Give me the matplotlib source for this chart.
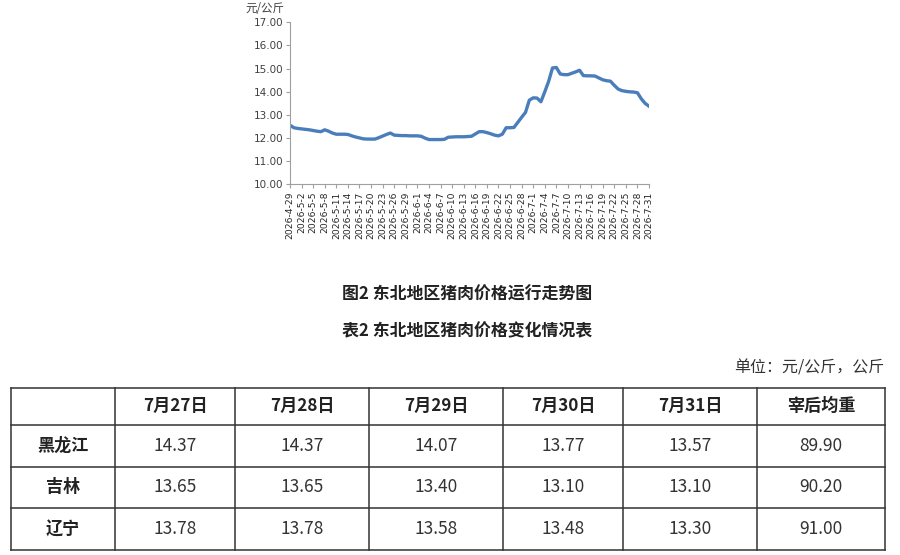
import matplotlib.pyplot as plt
import numpy as np
import datetime as dt

plt.rcParams['font.family'] = ['Noto Sans CJK SC', 'DejaVu Sans']

# 东北地区猪肉价格 (元/公斤), 2026-4-29 ~ 2026-7-31, daily
prices = [12.56, 12.45, 12.42, 12.40, 12.38, 12.36, 12.33, 12.30, 12.28, 12.36,
          12.30, 12.22, 12.17, 12.17, 12.17, 12.16, 12.10, 12.05, 12.01, 11.97,
          11.96, 11.96, 11.96, 12.02, 12.09, 12.16, 12.22, 12.13, 12.12, 12.11,
          12.11, 12.10, 12.10, 12.10, 12.08, 12.00, 11.94, 11.94, 11.94, 11.94,
          11.95, 12.04, 12.05, 12.06, 12.06, 12.06, 12.07, 12.08, 12.18, 12.28,
          12.28, 12.24, 12.19, 12.13, 12.10, 12.17, 12.45, 12.45, 12.46, 12.68,
          12.90, 13.11, 13.64, 13.74, 13.73, 13.57, 14.00, 14.45, 15.03, 15.05,
          14.77, 14.74, 14.74, 14.80, 14.86, 14.93, 14.70, 14.69, 14.69, 14.68,
          14.60, 14.52, 14.48, 14.46, 14.28, 14.12, 14.05, 14.02, 14.00, 13.99,
          13.96, 13.70, 13.50, 13.38]
start = dt.date(2026, 4, 29)
dates = [start + dt.timedelta(days=i) for i in range(len(prices))]
date_labels = [f"{d.year}-{d.month}-{d.day}" for d in dates]

# 表2 数据
col_heads = ['', '7月27日', '7月28日', '7月29日', '7月30日', '7月31日', '宰后均重']
provinces = ['黑龙江', '吉林', '辽宁']
table_vals = [
    ['14.37', '14.37', '14.07', '13.77', '13.57', '89.90'],
    ['13.65', '13.65', '13.40', '13.10', '13.10', '90.20'],
    ['13.78', '13.78', '13.58', '13.48', '13.30', '91.00'],
]

W, H = 900, 555
fig = plt.figure(figsize=(W / 100, H / 100), dpi=100)

# ---- 折线图 ----
ax = fig.add_axes([290 / W, 1 - 184.5 / H, (649 - 290) / W, (184.5 - 22.3) / H])
x = np.arange(len(prices))
ax.plot(x, prices, color='#4a7ebb', lw=2.4, solid_joinstyle='round')
ax.set_xlim(0, len(prices) - 1)
ax.set_ylim(10, 17)
ax.set_yticks(np.arange(10, 17.01, 1))
ax.set_yticklabels([f"{v:.2f}" for v in np.arange(10, 17.01, 1)],
                   fontsize=7.5, family='DejaVu Sans')
ax.set_xticks(x[::3])
ax.set_xticklabels(date_labels[::3], rotation=90, fontsize=6.6,
                   family='DejaVu Sans')
for s in ['top', 'right']:
    ax.spines[s].set_visible(False)
for s in ['left', 'bottom']:
    ax.spines[s].set_color('#a0a0a0')
    ax.spines[s].set_linewidth(0.8)
ax.tick_params(axis='both', colors='#a0a0a0', length=3, width=0.8, pad=2)
ax.tick_params(axis='y', labelcolor='#404040')
ax.tick_params(axis='x', labelcolor='#252525')
fig.text(245 / W, 1 - 8 / H, '元/公斤', fontsize=8.3, color='#404040',
         ha='left', va='center')

# ---- 标题 ----
fig.text(467 / W, 1 - 295 / H, '图2 东北地区猪肉价格运行走势图', fontsize=12.2,
         fontweight='bold', ha='center', va='center', color='#222222')
fig.text(467 / W, 1 - 331 / H, '表2 东北地区猪肉价格变化情况表', fontsize=12.2,
         fontweight='bold', ha='center', va='center', color='#222222')
fig.text(884 / W, 1 - 368 / H, '单位：元/公斤，公斤', fontsize=11.5,
         ha='right', va='center', color='#333333')

# ---- 表格 ----
tax = fig.add_axes([0, 0, 1, 1])
tax.set_xlim(0, W)
tax.set_ylim(H, 0)
tax.axis('off')
col_x = [10.5, 115, 235, 369, 503, 623, 757, 885]
row_y = [387.5, 425, 466.7, 508.3, 550]
for yy in row_y:
    tax.plot([col_x[0], col_x[-1]], [yy, yy], color='#333333', lw=1.1)
for xx in col_x:
    tax.plot([xx, xx], [row_y[0], row_y[-1]], color='#333333', lw=1.1)

def cell_center(r, c):
    return (col_x[c] + col_x[c + 1]) / 2, (row_y[r] + row_y[r + 1]) / 2

for c, head in enumerate(col_heads):
    cx, cy = cell_center(0, c)
    tax.text(cx, cy, head, fontsize=12.3, fontweight='bold', ha='center',
             va='center', color='#222222')
for r, prov in enumerate(provinces):
    cx, cy = cell_center(r + 1, 0)
    tax.text(cx, cy, prov, fontsize=12.3, fontweight='bold', ha='center',
             va='center', color='#222222')
    for c, v in enumerate(table_vals[r]):
        cx, cy = cell_center(r + 1, c + 1)
        tax.text(cx, cy, v, fontsize=12.5, ha='center', va='center',
                 color='#333333')

fig.savefig('out.png', dpi=100)
